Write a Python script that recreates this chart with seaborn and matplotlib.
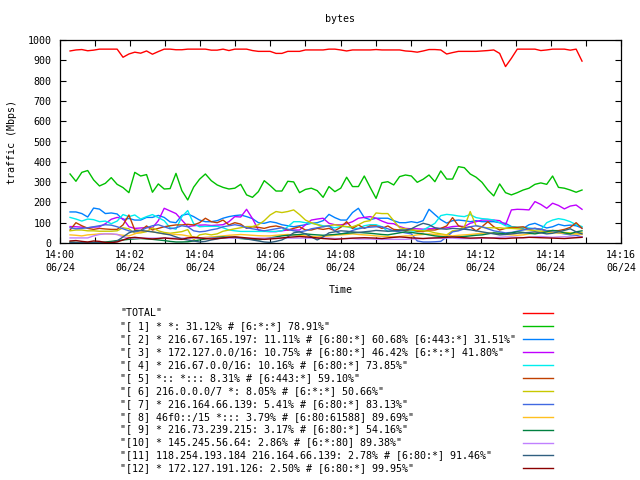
import numpy as np
import pandas as pd
import matplotlib
matplotlib.use("Agg")
import matplotlib.pyplot as plt
from matplotlib.lines import Line2D
import seaborn as sns

# ---------------- data ----------------
sample_start_s = 17.2      # first sample, seconds after 14:00
sample_step_s = 10.07      # sampling interval, seconds

series_names = [
    "TOTAL",
    "[ 1] * *: 31.12% # [6:*:*] 78.91%",
    "[ 2] * 216.67.165.197: 11.11% # [6:80:*] 60.68% [6:443:*] 31.51%",
    "[ 3] * 172.127.0.0/16: 10.75% # [6:80:*] 46.42% [6:*:*] 41.80%",
    "[ 4] * 216.67.0.0/16: 10.16% # [6:80:*] 73.85%",
    "[ 5] *:: *::: 8.31% # [6:443:*] 59.10%",
    "[ 6] 216.0.0.0/7 *: 8.05% # [6:*:*] 50.66%",
    "[ 7] * 216.164.66.139: 5.41% # [6:80:*] 83.13%",
    "[ 8] 46f0::/15 *::: 3.79% # [6:80:61588] 89.69%",
    "[ 9] * 216.73.239.215: 3.17% # [6:80:*] 54.16%",
    "[10] * 145.245.56.64: 2.86% # [6:*:80] 89.38%",
    "[11] 118.254.193.184 216.164.66.139: 2.78% # [6:80:*] 91.46%",
    "[12] * 172.127.191.126: 2.50% # [6:80:*] 99.95%",
]

total = [946, 951, 953, 947, 950, 955, 955, 955, 955, 915, 931, 940, 935, 946, 930, 943,
         955, 955, 952, 952, 955, 955, 955, 955, 950, 950, 955, 948, 955, 955, 955, 948,
         944, 944, 944, 934, 934, 944, 944, 944, 951, 951, 951, 951, 955, 955, 951, 946,
         951, 951, 951, 951, 953, 951, 951, 951, 951, 946, 944, 940, 946, 953, 953, 951,
         931, 938, 944, 944, 944, 944, 946, 948, 951, 934, 869, 910, 955, 955, 955, 955,
         948, 951, 955, 955, 955, 950, 955, 896]

s1 = [340, 304, 348, 357, 311, 281, 294, 322, 289, 273, 248, 348, 330, 337, 250, 291,
      266, 268, 343, 258, 212, 275, 314, 340, 307, 286, 274, 266, 270, 289, 237, 225,
      253, 307, 283, 256, 256, 304, 301, 248, 264, 270, 258, 225, 278, 253, 270, 324,
      278, 278, 330, 274, 220, 297, 302, 286, 327, 335, 330, 299, 314, 335, 302, 355,
      315, 315, 376, 371, 340, 324, 299, 261, 232, 291, 248, 237, 248, 261, 270, 289,
      296, 289, 330, 274, 270, 261, 250, 261]

s2 = [153, 153, 145, 128, 172, 167, 145, 148, 143, 115, 121, 113, 113, 126, 126, 136,
      126, 104, 100, 136, 143, 130, 113, 105, 105, 110, 122, 130, 135, 138, 130, 120,
      100, 97, 105, 100, 90, 85, 80, 85, 90, 97, 100, 110, 141, 125, 113, 113,
      150, 171, 125, 115, 122, 122, 122, 110, 100, 100, 105, 100, 110, 166, 140, 115,
      98, 110, 113, 110, 105, 110, 105, 105, 105, 100, 97, 81, 75, 72, 90, 97,
      85, 74, 80, 92, 85, 88, 85, 74]

s3 = [81, 80, 78, 75, 78, 80, 95, 117, 126, 120, 80, 72, 74, 76, 75, 110,
      171, 158, 145, 113, 81, 85, 88, 89, 86, 88, 90, 105, 130, 128, 166, 120,
      64, 58, 56, 56, 60, 64, 64, 64, 90, 113, 118, 122, 97, 90, 89, 95,
      105, 122, 126, 130, 122, 108, 97, 95, 81, 72, 70, 70, 68, 70, 72, 72,
      75, 81, 83, 81, 97, 105, 113, 113, 113, 110, 89, 163, 166, 165, 163, 204,
      190, 171, 196, 185, 168, 182, 187, 166]

s4 = [126, 118, 108, 118, 115, 105, 108, 95, 108, 140, 130, 138, 118, 130, 140, 125,
      110, 75, 68, 130, 160, 95, 80, 82, 82, 82, 75, 64, 60, 57, 57, 57,
      57, 57, 57, 57, 60, 80, 105, 105, 100, 97, 92, 85, 82, 75, 81, 81,
      72, 72, 85, 90, 90, 80, 57, 60, 64, 64, 60, 57, 64, 80, 97, 135,
      141, 138, 133, 130, 140, 125, 120, 118, 113, 100, 85, 80, 78, 76, 74, 70,
      64, 100, 113, 120, 115, 105, 90, 81]

s5 = [64, 100, 85, 72, 67, 72, 69, 67, 67, 89, 138, 64, 61, 84, 64, 72,
      80, 85, 89, 89, 92, 89, 100, 122, 105, 100, 113, 89, 100, 93, 72, 80,
      77, 72, 80, 84, 77, 64, 72, 80, 64, 64, 72, 67, 72, 61, 77, 105,
      72, 89, 72, 84, 84, 72, 84, 67, 64, 61, 67, 58, 56, 64, 64, 72,
      84, 125, 85, 75, 80, 60, 80, 105, 80, 64, 72, 77, 77, 80, 67, 72,
      67, 61, 61, 61, 67, 77, 100, 72]

s6 = [60, 64, 64, 60, 60, 58, 58, 58, 60, 75, 70, 48, 50, 56, 75, 60,
      52, 48, 52, 56, 66, 15, 40, 45, 40, 45, 58, 64, 70, 75, 81, 81,
      90, 110, 138, 155, 150, 155, 163, 140, 113, 100, 90, 80, 85, 90, 85, 80,
      80, 90, 105, 110, 148, 145, 145, 110, 75, 70, 64, 62, 60, 58, 50, 45,
      40, 60, 62, 80, 155, 85, 77, 75, 75, 75, 72, 72, 70, 67, 64, 60,
      58, 56, 52, 50, 52, 50, 48, 50]

s7 = [75, 70, 72, 75, 80, 85, 90, 88, 80, 70, 60, 55, 60, 75, 85, 90,
      80, 70, 75, 85, 80, 60, 55, 58, 65, 70, 80, 85, 90, 85, 75, 70,
      65, 60, 65, 70, 75, 68, 60, 55, 60, 70, 75, 80, 85, 60, 45, 50,
      62, 70, 75, 78, 80, 80, 70, 60, 55, 50, 45, 10, 5, 5, 6, 8,
      30, 55, 60, 70, 80, 85, 80, 70, 60, 55, 50, 52, 58, 64, 70, 72,
      68, 60, 55, 50, 45, 40, 38, 30]

s8 = [40, 38, 35, 40, 42, 45, 45, 44, 42, 38, 35, 45, 55, 60, 55, 50,
      45, 45, 42, 40, 35, 30, 25, 28, 30, 32, 35, 38, 40, 42, 40, 38,
      36, 35, 35, 38, 40, 42, 40, 38, 35, 33, 30, 32, 35, 38, 40, 42,
      45, 42, 40, 38, 35, 33, 32, 30, 32, 35, 35, 40, 42, 45, 42, 40,
      38, 35, 38, 40, 42, 45, 48, 50, 48, 45, 42, 40, 38, 40, 45, 50,
      52, 55, 52, 50, 48, 45, 44, 42]

s9 = [5, 3, 2, 2, 3, 3, 5, 8, 12, 15, 18, 20, 22, 20, 18, 15,
      12, 8, 5, 5, 6, 10, 15, 20, 25, 28, 30, 28, 25, 22, 20, 18,
      15, 20, 25, 30, 35, 38, 40, 42, 45, 42, 40, 38, 40, 42, 45, 48,
      50, 52, 50, 48, 45, 42, 40, 45, 50, 55, 52, 48, 45, 40, 35, 32,
      30, 28, 30, 32, 35, 38, 40, 45, 50, 48, 45, 50, 55, 52, 48, 45,
      50, 55, 62, 58, 50, 45, 55, 60]

s10 = [25, 25, 25, 25, 35, 42, 45, 45, 42, 30, 25, 25, 24, 24, 24, 24,
       24, 24, 24, 24, 24, 24, 24, 24, 24, 24, 24, 24, 24, 24, 24, 24,
       24, 24, 24, 24, 24, 24, 24, 24, 24, 24, 24, 24, 24, 22, 22, 22,
       22, 20, 20, 20, 18, 18, 18, 18, 18, 18, 20, 20, 22, 22, 24, 24,
       24, 24, 22, 22, 22, 22, 24, 24, 26, 28, 30, 30, 28, 26, 28, 30,
       32, 30, 28, 30, 31, 30, 28, 30]

s11 = [2, 2, 2, 2, 2, 2, 2, 2, 10, 30, 50, 60, 62, 58, 55, 50,
       45, 40, 30, 20, 15, 10, 5, 8, 15, 20, 25, 28, 30, 25, 20, 15,
       10, 5, 3, 8, 15, 30, 50, 55, 45, 30, 15, 30, 50, 55, 60, 58,
       55, 52, 55, 58, 62, 60, 58, 60, 62, 64, 70, 85, 97, 90, 75, 70,
       68, 72, 70, 68, 65, 60, 55, 50, 45, 40, 42, 45, 48, 50, 52, 55,
       50, 45, 48, 55, 62, 70, 55, 45]

s12 = [10, 12, 8, 5, 10, 8, 3, 2, 5, 15, 25, 28, 25, 22, 20, 22,
       25, 22, 20, 18, 25, 28, 25, 22, 20, 22, 25, 28, 30, 28, 25, 22,
       20, 18, 20, 22, 25, 28, 30, 32, 30, 28, 25, 22, 20, 18, 20, 22,
       24, 25, 26, 25, 24, 22, 25, 28, 30, 28, 25, 24, 22, 24, 25, 26,
       28, 30, 28, 26, 24, 25, 26, 25, 24, 22, 22, 24, 25, 26, 28, 27,
       26, 25, 24, 23, 22, 24, 26, 28]

series_values = [total, s1, s2, s3, s4, s5, s6, s7, s8, s9, s10, s11, s12]

colors = ["#ff0000", "#00c000", "#0080ff", "#c000ff", "#00eeee", "#c04000",
          "#c8c800", "#4169e1", "#ffc020", "#008040", "#c080ff", "#306080", "#8b0000"]

x_tick_minutes = list(range(0, 17))
x_tick_labels = [f"14:{m:02d}\n06/24" if m % 2 == 0 else "" for m in x_tick_minutes]
y_ticks = list(range(0, 1001, 100))

# ---------------- build table ----------------
rows = []
for name, vals in zip(series_names, series_values):
    for i, v in enumerate(vals):
        rows.append({"t": (sample_start_s + i * sample_step_s) / 60.0,
                     "v": v, "series": name})
df = pd.DataFrame(rows)

# ---------------- plot ----------------
plt.rcParams["font.family"] = ["DejaVu Sans Mono"]
fs = 7.2

fig = plt.figure(figsize=(6.4, 4.8), dpi=100)
ax = fig.add_axes([60 / 640, 1 - 243 / 480, 561 / 640, 203 / 480])

sns.lineplot(data=df, x="t", y="v", hue="series", hue_order=series_names,
             palette=colors, estimator=None, legend=False, linewidth=1.0, ax=ax)

ax.set_xlim(0, 16)
ax.set_ylim(0, 1000)
ax.set_xticks(x_tick_minutes)
ax.set_xticklabels(x_tick_labels, fontsize=fs, linespacing=1.35)
ax.set_yticks(y_ticks)
ax.set_yticklabels([str(v) for v in y_ticks], fontsize=fs)
ax.tick_params(direction="in", top=True, right=True, length=4, width=0.8)
ax.tick_params(axis="y", pad=6)
ax.tick_params(axis="x", pad=5)
for sp in ax.spines.values():
    sp.set_linewidth(0.9)
    sp.set_color("black")

ax.set_xlabel("Time", fontsize=fs, labelpad=9)
ax.set_ylabel("traffic (Mbps)", fontsize=fs, labelpad=8)
fig.text(340 / 640, 1 - 19 / 480, "bytes", ha="center", va="center", fontsize=fs)

# gnuplot-style legend below the plot
for k, (name, col) in enumerate(zip(series_names, colors)):
    yc = 1 - (313 + k * 12.95) / 480
    fig.text(120 / 640, yc, f'"{name}"', ha="left", va="center", fontsize=fs)
    fig.add_artist(Line2D([523 / 640, 553 / 640], [yc, yc], color=col,
                          linewidth=1.0, transform=fig.transFigure))

fig.savefig("out.png", dpi=100)
